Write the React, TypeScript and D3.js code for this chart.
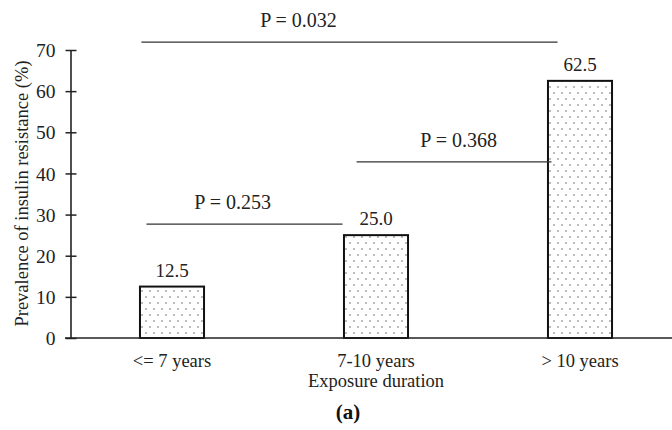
import React, { useRef, useEffect } from 'react';
import * as d3 from 'd3';

const categories = ["<= 7 years", "7-10 years", "> 10 years"];
const prevalence = [12.5, 25.0, 62.5];
const valueLabels = ["12.5", "25.0", "62.5"];
const yTicks = [0, 10, 20, 30, 40, 50, 60, 70];

// comparison brackets: positions in category units (0 = first category centre)
const pLabels = ["P = 0.032", "P = 0.368", "P = 0.253"];
const pLineFrom = [-0.15, 0.905, -0.125];
const pLineTo = [1.89, 1.86, 0.836];
const pLineY = [71.9, 42.8, 27.7];
const pTextX = [0.62, 1.405, 0.297];

const W = 672;
const H = 430;
const FONT = "'Liberation Serif', 'Times New Roman', serif";

const App = () => {
  const svgRef = useRef<SVGSVGElement | null>(null);

  useEffect(() => {
    const svg = d3.select(svgRef.current);
    svg.selectAll('*').remove();

    const x = d3.scaleBand<string>()
      .domain(categories)
      .range([70, 682])
      .paddingInner(0.686)
      .paddingOuter(0.343);

    const y = d3.scaleLinear()
      .domain([0, 70])
      .range([338, 50]);

    // category units -> pixels
    const c0 = (x(categories[0]) as number) + x.bandwidth() / 2;
    const cx = d3.scaleLinear().domain([0, 1]).range([c0, c0 + x.step()]);

    // dotted fill
    const defs = svg.append("defs");
    const pat = defs.append("pattern")
      .attr("id", "dots")
      .attr("patternUnits", "userSpaceOnUse")
      .attr("width", 8)
      .attr("height", 12)
      .attr("x", x(categories[0]) as number)
      .attr("y", 0);
    pat.append("rect").attr("width", 8).attr("height", 12).attr("fill", "#fff");
    pat.append("circle").attr("cx", 2).attr("cy", 3).attr("r", 0.75).attr("fill", "#555");
    pat.append("circle").attr("cx", 6).attr("cy", 9).attr("r", 0.75).attr("fill", "#555");

    // bars
    svg.selectAll("rect.bar")
      .data(prevalence)
      .enter()
      .append("rect")
      .attr("class", "bar")
      .attr("x", (d, i) => x(categories[i]) as number)
      .attr("y", d => y(d))
      .attr("width", x.bandwidth())
      .attr("height", d => y(0) - y(d))
      .attr("fill", "url(#dots)")
      .attr("stroke", "#111")
      .attr("stroke-width", 2);

    // value labels
    svg.selectAll("text.val")
      .data(prevalence)
      .enter()
      .append("text")
      .attr("class", "val")
      .attr("x", (d, i) => (x(categories[i]) as number) + x.bandwidth() / 2)
      .attr("y", d => y(d) - 10)
      .attr("text-anchor", "middle")
      .attr("font-family", FONT)
      .attr("font-size", 19)
      .attr("fill", "#222")
      .text((d, i) => valueLabels[i]);

    // y axis
    const yAxis = d3.axisLeft(y)
      .tickValues(yTicks)
      .tickSizeInner(-5)
      .tickSizeOuter(0)
      .tickFormat(d3.format("d"));
    const gy = svg.append("g")
      .attr("transform", "translate(70.5,0)")
      .call(yAxis);
    gy.select(".domain").attr("stroke", "#222").attr("stroke-width", 1.6);
    gy.selectAll(".tick line")
      .attr("x1", -5)
      .attr("x2", 6)
      .attr("stroke", "#222")
      .attr("stroke-width", 1.5);
    gy.selectAll(".tick text")
      .attr("x", -15)
      .attr("dy", "0.34em")
      .attr("font-family", FONT)
      .attr("font-size", 19.5)
      .attr("fill", "#222");

    // x axis baseline
    svg.append("line")
      .attr("x1", 65)
      .attr("x2", W)
      .attr("y1", y(0))
      .attr("y2", y(0))
      .attr("stroke", "#222")
      .attr("stroke-width", 1.6);

    // category labels
    svg.selectAll("text.cat")
      .data(categories)
      .enter()
      .append("text")
      .attr("class", "cat")
      .attr("x", d => (x(d) as number) + x.bandwidth() / 2)
      .attr("y", 367)
      .attr("text-anchor", "middle")
      .attr("font-family", FONT)
      .attr("font-size", 18.5)
      .attr("fill", "#222")
      .text(d => d);

    // axis titles
    svg.append("text")
      .attr("x", cx(1))
      .attr("y", 387)
      .attr("text-anchor", "middle")
      .attr("font-family", FONT)
      .attr("font-size", 18.5)
      .attr("fill", "#222")
      .text("Exposure duration");

    svg.append("text")
      .attr("transform", `translate(28,${(60 + 327) / 2}) rotate(-90)`)
      .attr("text-anchor", "middle")
      .attr("font-family", FONT)
      .attr("font-size", 18.5)
      .attr("fill", "#222")
      .text("Prevalence of insulin resistance (%)");

    // p-value brackets
    pLabels.forEach((label, i) => {
      svg.append("line")
        .attr("x1", cx(pLineFrom[i]))
        .attr("x2", cx(pLineTo[i]))
        .attr("y1", y(pLineY[i]))
        .attr("y2", y(pLineY[i]))
        .attr("stroke", "#333")
        .attr("stroke-width", 1.3);
      svg.append("text")
        .attr("x", cx(pTextX[i]))
        .attr("y", y(pLineY[i]) - 15)
        .attr("text-anchor", "middle")
        .attr("font-family", FONT)
        .attr("font-size", 20)
        .attr("fill", "#222")
        .text(label);
    });

    // panel tag
    svg.append("text")
      .attr("x", 348)
      .attr("y", 419)
      .attr("text-anchor", "middle")
      .attr("font-family", FONT)
      .attr("font-size", 21)
      .attr("font-weight", "bold")
      .attr("fill", "#111")
      .text("(a)");
  }, []);

  return (
    <svg
      ref={svgRef}
      width={W}
      height={H}
      style={{ position: "absolute", left: 0, top: 0, background: "#fff" }}
    ></svg>
  );
};

export default App;
